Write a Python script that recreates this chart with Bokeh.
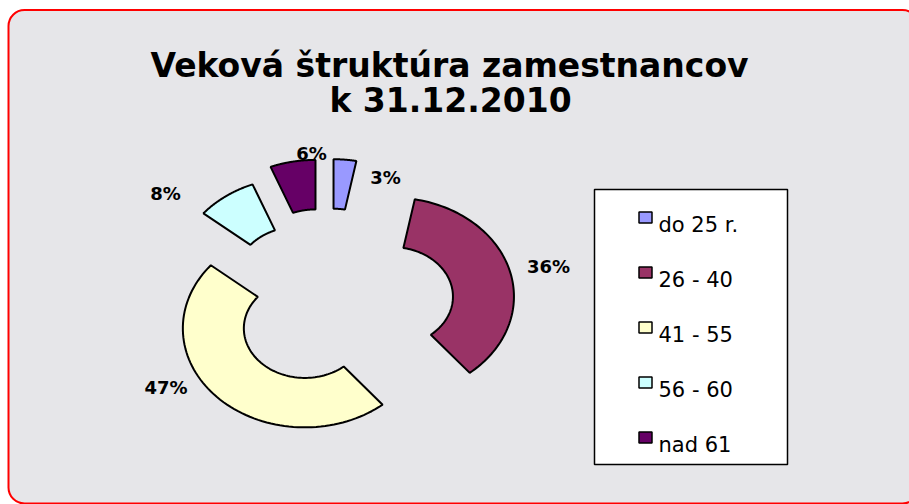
import numpy as np
from bokeh.plotting import figure
from bokeh.models import Range1d, BoxAnnotation
from bokeh.core.properties import value
from bokeh.embed import file_html
from bokeh.resources import INLINE

# ---- data ----
categories = ["do 25 r.", "26 - 40", "41 - 55", "56 - 60", "nad 61"]
shares = [3, 36, 47, 8, 6]
pct_labels = ["3%", "36%", "47%", "8%", "6%"]
colors = ["#9999FF", "#993366", "#FFFFCC", "#CCFFFF", "#660066"]
title_lines = ["Veková štruktúra zamestnancov", "k 31.12.2010"]

# ---- layout / style ----
W, H = 909, 504
CX, CY = 327.0, 309.5          # common donut centre (page px)
RX, RY = 122.0, 99.0           # outer radii (chart is stretched horizontally)
HOLE = 0.5
explode = [52, 54, 26, 41.5, 52]
label_xy = [(385, 177), (548, 266), (165.5, 387), (165, 192.5), (311, 153)]
FONT = value("DejaVu Sans")

p = figure(width=W, height=H, x_range=Range1d(0, W), y_range=Range1d(H, 0),
           output_backend="svg", toolbar_location=None, min_border=0,
           x_axis_type=None, y_axis_type=None)
p.grid.visible = False
p.outline_line_color = None
p.background_fill_color = "white"
p.border_fill_color = "white"

# marble panel with red rounded border
p.add_layout(BoxAnnotation(left=8, right=918, top=9.5, bottom=503, border_radius=16,
                           fill_color="#e6e6e9", fill_alpha=1.0,
                           line_color="#ff0000", line_alpha=1.0, line_width=2,
                           level="underlay"))

# donut slices
total = float(sum(shares))
xs, ys = [], []
start = 0.0
for i, s in enumerate(shares):
    a0 = start
    a1 = start + 2 * np.pi * s / total
    start = a1
    mid = 0.5 * (a0 + a1)
    e = explode[i]
    sx = CX + e * (RX / RY) * np.sin(mid)
    sy = CY - e * np.cos(mid)
    t = np.linspace(a0, a1, 80)
    ox = sx + RX * np.sin(t)
    oy = sy - RY * np.cos(t)
    ix = sx + RX * HOLE * np.sin(t[::-1])
    iy = sy - RY * HOLE * np.cos(t[::-1])
    xs.append(list(np.concatenate([ox, ix])))
    ys.append(list(np.concatenate([oy, iy])))

p.patches(xs, ys, fill_color=colors, line_color="black", line_width=2)

# percentage labels
p.text(x=[q[0] for q in label_xy], y=[q[1] for q in label_xy], text=pct_labels,
       text_font=FONT, text_font_style="bold", text_font_size="18px",
       text_align="center", text_baseline="alphabetic", text_color="black")

# title
p.text(x=[449, 450], y=[65, 100], text=title_lines,
       text_font=FONT, text_font_style="bold", text_font_size="33px",
       text_align="center", text_baseline="alphabetic", text_color="black")

# legend
p.quad(left=[594], right=[787], top=[189], bottom=[464],
       fill_color="white", line_color="black", line_width=1.5)
row_y = [217 + 55 * i for i in range(len(categories))]
p.rect(x=[645] * len(categories), y=row_y, width=13, height=11,
       fill_color=colors, line_color="black", line_width=1.5)
p.text(x=[658] * len(categories), y=[r + 7 for r in row_y], text=categories,
       text_font=FONT, text_font_size="21px", text_align="left",
       text_baseline="alphabetic", text_color="black")

open("out.html", "w").write(file_html(p, INLINE))
